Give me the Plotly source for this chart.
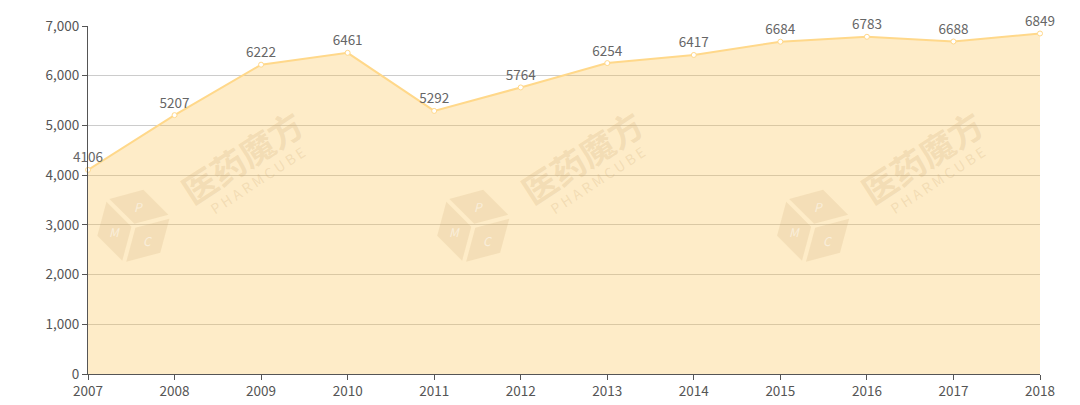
import math
import plotly.graph_objects as go

years = ["2007", "2008", "2009", "2010", "2011", "2012", "2013", "2014", "2015", "2016", "2017", "2018"]
values = [4106, 5207, 6222, 6461, 5292, 5764, 6254, 6417, 6684, 6783, 6688, 6849]
y_ticks = [0, 1000, 2000, 3000, 4000, 5000, 6000, 7000]

line_color = "#FFD88A"
fill_color = "rgba(252,192,72,0.30)"
font_family = "Noto Sans CJK SC, Open Sans, sans-serif"

# plot area size in px (for watermark decoration placement)
PW, PH = 952, 348

fig = go.Figure()
fig.add_trace(go.Scatter(
    x=list(range(len(years))), y=values,
    mode="lines+markers+text",
    line=dict(color=line_color, width=2),
    fill="tozeroy", fillcolor=fill_color,
    marker=dict(size=5, color="white", line=dict(color=line_color, width=1)),
    text=[str(v) for v in values], textposition="top center",
    textfont=dict(size=13.5, color="#666666", family=font_family),
    cliponaxis=False, hoverinfo="skip",
))

wm_color = "rgba(205,170,115,0.24)"
shapes = []
for k in range(3):
    cx = 0.162 + 0.357 * k
    fig.add_annotation(xref="paper", yref="paper", x=cx, y=0.624, text="<b>医药魔方</b>",
                       xanchor="center", yanchor="middle",
                       showarrow=False, textangle=-33,
                       font=dict(size=34, color=wm_color, family=font_family))
    fig.add_annotation(xref="paper", yref="paper", x=cx + 0.016, y=0.557, text="P H A R M C U B E",
                       xanchor="center", yanchor="middle",
                       showarrow=False, textangle=-33,
                       font=dict(size=14, color=wm_color, family=font_family))
    # cube logo
    ccx, ccy = cx - 0.114, 0.425
    r = 40
    rot = -15
    verts = []
    for i in range(6):
        a = math.radians(90 + rot + 60 * i)
        verts.append((r * math.cos(a), r * math.sin(a)))
    faces = [([(0, 0), verts[5], verts[0], verts[1]], "P"),
             ([(0, 0), verts[1], verts[2], verts[3]], "M"),
             ([(0, 0), verts[3], verts[4], verts[5]], "C")]
    for pts, letter in faces:
        gx = sum(p[0] for p in pts) / 4
        gy = sum(p[1] for p in pts) / 4
        sp = [(gx + 0.88 * (p[0] - gx), gy + 0.88 * (p[1] - gy)) for p in pts]
        path = "M " + " L ".join(f"{ccx + px / PW:.4f},{ccy + py / PH:.4f}" for px, py in sp) + " Z"
        shapes.append(dict(type="path", xref="paper", yref="paper", path=path,
                           fillcolor="rgba(205,170,115,0.20)", line=dict(width=0), layer="above"))
        fig.add_annotation(xref="paper", yref="paper", x=ccx + gx / PW, y=ccy + gy / PH,
                           xanchor="center", yanchor="middle",
                           text=f"<i>{letter}</i>", showarrow=False,
                           font=dict(size=12, color="rgba(255,255,255,0.5)", family=font_family))

fig.update_layout(
    width=1080, height=405,
    margin=dict(l=80, r=48, t=18, b=39),
    paper_bgcolor="white", plot_bgcolor="white",
    showlegend=False,
    shapes=shapes,
    font=dict(family=font_family, color="#555555", size=13),
    xaxis=dict(
        range=[0, len(years) - 1], automargin=False,
        tickmode="array", tickvals=list(range(len(years))), ticktext=years,
        showgrid=False, zeroline=False,
        showline=True, linecolor="#555555", linewidth=1,
        ticks="outside", ticklen=5, tickcolor="#555555",
        tickfont=dict(size=13.5, color="#555555"),
    ),
    yaxis=dict(
        range=[0, 7000], automargin=False,
        tickmode="array", tickvals=y_ticks, tickformat=",",
        showgrid=True, gridcolor="#CCCCCC", gridwidth=1, zeroline=False,
        showline=True, linecolor="#555555", linewidth=1,
        ticks="outside", ticklen=5, tickcolor="#555555",
        tickfont=dict(size=13.5, color="#555555"),
    ),
)

fig.write_html("out.html")
